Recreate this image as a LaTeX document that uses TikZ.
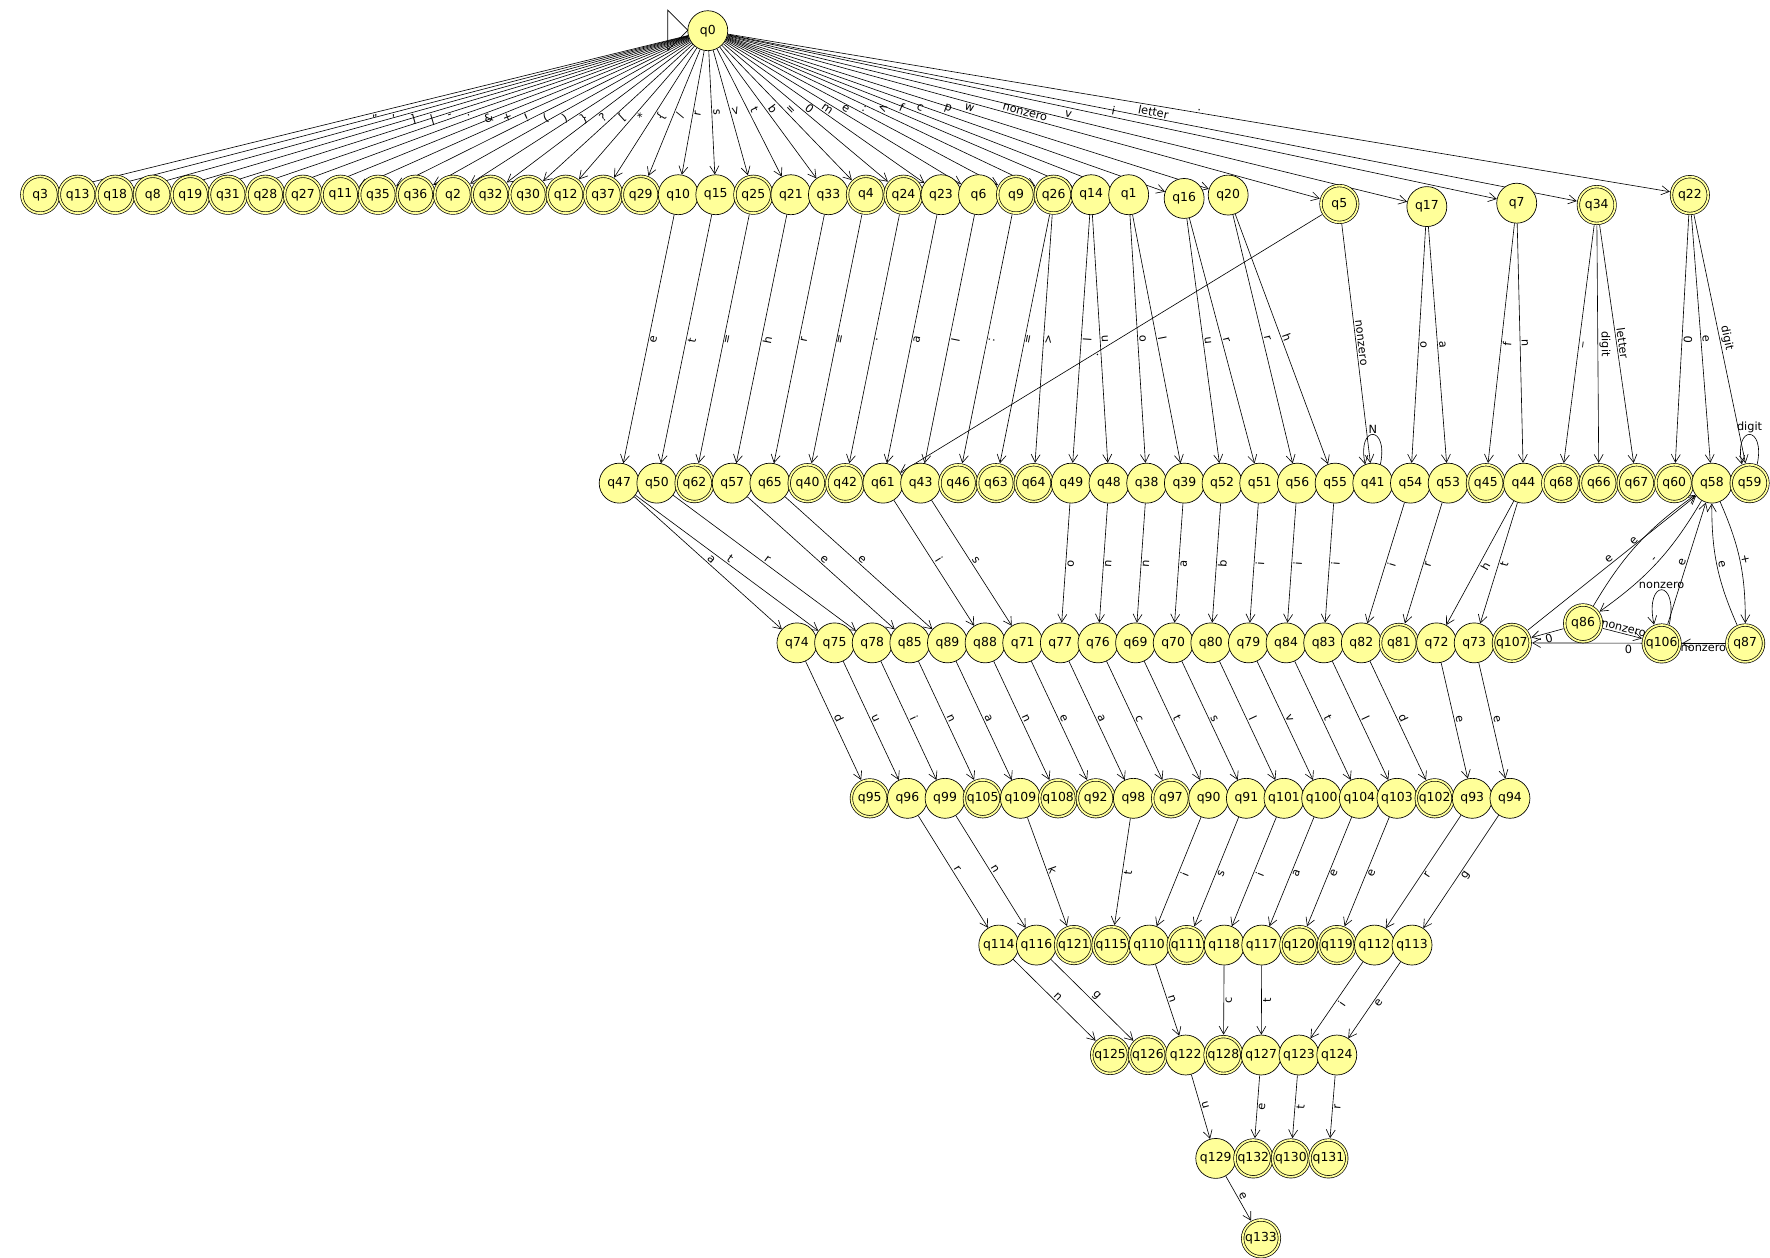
\documentclass[tikz,border=0pt]{standalone}
\usepackage{fontspec}
\setmainfont{DejaVu Sans}
\usetikzlibrary{arrows.meta,backgrounds}
\definecolor{jfy}{RGB}{255,255,153}
\tikzset{
  st/.style={circle,draw,fill=jfy,minimum size=35.4pt,inner sep=0pt,line width=0.6pt,font=\fontsize{11}{11}\selectfont},
  s0/.style={st},
  s1/.style={st,minimum size=32.6pt,double=jfy,double distance=1.6pt,outer sep=1.7pt},
  tr/.style={-{Straight Barb[length=7pt,width=8pt]},line width=0.55pt},
  lab/.style={font=\fontsize{10}{10}\selectfont,sloped,auto,inner sep=1.2pt},
  labs/.style={lab,swap},
  llab/.style={font=\fontsize{10}{10}\selectfont,above,inner sep=1pt},
}
\begin{document}
\begin{tikzpicture}[x=1pt,y=-1pt]
\useasboundingbox (0,0) rectangle (1568,1114);
% states
\node[s0] (q0) at (627,27.2) {q0};
\foreach \n/\a [count=\i from 0] in {3/1,13/1,18/1,8/1,19/1,31/1,28/1,27/1,11/1,35/1,36/1,2/1,32/1,30/1,12/1,37/1,29/1,10/0,15/0,25/1,21/0,33/0,4/1,24/1,23/0,6/0,9/1,26/1,14/0,1/0}
  \node[s\a] (q\n) at (35.6+33.25*\i,172.5) {q\n};
\node[s0] (q16) at (1049,175.8) {q16};
\node[s0] (q20) at (1088,172.8) {q20};
\node[s1] (q5) at (1186.5,180.7) {q5};
\node[s0] (q17) at (1264,183) {q17};
\node[s0] (q7) at (1343.6,180) {q7};
\node[s1] (q34) at (1414.5,181.6) {q34};
\node[s1] (q22) at (1497,172.8) {q22};
\foreach \n/\a [count=\i from 0] in {47/0,50/0,62/1,57/0,65/0,40/1,42/1,61/0,43/0,46/1,63/1,64/1,49/0,48/0,38/0,39/0,52/0,51/0,56/0,55/0,41/0,54/0,53/0,45/1,44/0,68/1,66/1,67/1,60/1,58/0,59/1}
  \node[s\a] (q\n) at (548.5+33.38*\i,428) {q\n};
\foreach \n/\a [count=\i from 0] in {74/0,75/0,78/0,85/0,89/0,88/0,71/0,77/0,76/0,69/0,70/0,80/0,79/0,84/0,83/0,82/0,81/1,72/0,73/0,107/1}
  \node[s\a] (q\n) at (706+33.33*\i,569.5) {q\n};
\node[s1] (q86) at (1402.4,552.2) {q86};
\node[s1] (q106) at (1472,570) {q106};
\node[s1] (q87) at (1546,570) {q87};
\foreach \n/\a [count=\i from 0] in {95/1,96/0,99/0,105/1,109/0,108/1,92/1,98/0,97/1,90/0,91/0,101/0,100/0,104/0,103/0,102/1,93/0,94/0}
  \node[s\a] (q\n) at (770.5+33.36*\i,707.2) {q\n};
\foreach \n/\a [count=\i from 0] in {114/0,116/0,121/1,115/1,110/0,111/1,118/0,117/0,120/1,119/1,112/0,113/0}
  \node[s\a] (q\n) at (884.8+33.28*\i,837.2) {q\n};
\foreach \n/\a [count=\i from 0] in {125/1,126/1,122/0,128/1,127/0,123/0,124/0}
  \node[s\a] (q\n) at (983.4+33.47*\i,934.6) {q\n};
\foreach \n/\a [count=\i from 0] in {129/0,132/1,130/1,131/1}
  \node[s\a] (q\n) at (1077+33.27*\i,1026.2) {q\n};
\node[s1] (q133) at (1117.1,1097) {q133};
% initial marker
\draw[line width=0.6pt] (591.5,9) -- (591.5,44.5) -- (609.3,26.8) -- cycle;
\begin{scope}[on background layer]
\fill[white] (0,0) rectangle (1568,1114);
% fan from q0
\draw[tr] (q0) -- node[labs]{"} (q3);
\draw[tr] (q0) -- node[labs]{,} (q13);
\draw[tr] (q0) -- node[labs]{]} (q18);
\draw[tr] (q0) -- node[labs]{|} (q8);
\draw[tr] (q0) -- node[labs]{-} (q19);
\draw[tr] (q0) -- node[labs]{.} (q31);
\draw[tr] (q0) -- node[labs]{\&} (q28);
\draw[tr] (q0) -- node[labs]{+} (q27);
\draw[tr] (q0) -- node[labs]{!} (q11);
\draw[tr] (q0) -- node[labs]{(} (q35);
\draw[tr] (q0) -- node[labs]{)} (q36);
\draw[tr] (q0) -- node[labs]{\}} (q2);
\draw[tr] (q0) -- node[labs]{?} (q32);
\draw[tr] (q0) -- node[labs]{[} (q30);
\draw[tr] (q0) -- node[labs]{*} (q12);
\draw[tr] (q0) -- node[labs]{\{} (q37);
\draw[tr] (q0) -- node[labs]{/} (q29);
\draw[tr] (q0) -- node[labs]{r} (q10);
\draw[tr] (q0) -- node[lab]{s} (q15);
\draw[tr] (q0) -- node[lab]{>} (q25);
\draw[tr] (q0) -- node[lab]{t} (q21);
\draw[tr] (q0) -- node[lab]{b} (q33);
\draw[tr] (q0) -- node[lab]{=} (q4);
\draw[tr] (q0) -- node[lab]{0} (q24);
\draw[tr] (q0) -- node[lab]{m} (q23);
\draw[tr] (q0) -- node[lab]{e} (q6);
\draw[tr] (q0) -- node[lab]{:} (q9);
\draw[tr] (q0) -- node[lab]{<} (q26);
\draw[tr] (q0) -- node[lab]{f} (q14);
\draw[tr] (q0) -- node[lab]{c} (q1);
\draw[tr] (q0) -- node[lab]{p} (q16);
\draw[tr] (q0) -- node[lab]{w} (q20);
\draw[tr] (q0) -- node[lab]{nonzero} (q5);
\draw[tr] (q0) -- node[lab]{v} (q17);
\draw[tr] (q0) -- node[lab]{i} (q7);
\draw[tr] (q0) -- node[lab]{letter} (q34);
\draw[tr] (q0) -- node[lab]{.} (q22);
% row 1 -> row 2
\draw[tr] (q10) -- node[labs]{e} (q47);
\draw[tr] (q15) -- node[labs]{t} (q50);
\draw[tr] (q25) -- node[labs]{=} (q62);
\draw[tr] (q21) -- node[labs]{h} (q57);
\draw[tr] (q33) -- node[labs]{r} (q65);
\draw[tr] (q4) -- node[labs]{=} (q40);
\draw[tr] (q24) -- node[labs]{.} (q42);
\draw[tr] (q23) -- node[labs]{a} (q61);
\draw[tr] (q6) -- node[labs]{l} (q43);
\draw[tr] (q9) -- node[labs]{:} (q46);
\draw[tr] (q26) -- node[labs]{=} (q63);
\draw[tr] (q26) -- node[labs]{>} (q64);
\draw[tr] (q14) -- node[labs]{l} (q49);
\draw[tr] (q14) -- node[lab]{u} (q48);
\draw[tr] (q1) -- node[lab]{o} (q38);
\draw[tr] (q1) -- node[lab]{l} (q39);
\draw[tr] (q16) -- node[lab]{u} (q52);
\draw[tr] (q16) -- node[lab]{r} (q51);
\draw[tr] (q20) -- node[lab]{r} (q56);
\draw[tr] (q20) -- node[lab]{h} (q55);
\draw[tr] (q5) -- node[labs,pos=0.535]{.} (q61);
\draw[tr] (q5) -- node[lab]{nonzero} (q41);
\draw[tr] (q17) -- node[labs]{o} (q54);
\draw[tr] (q17) -- node[lab]{a} (q53);
\draw[tr] (q7) -- node[labs]{f} (q45);
\draw[tr] (q7) -- node[lab]{n} (q44);
\draw[tr] (q34) -- node[labs]{\_} (q68);
\draw[tr] (q34) -- node[lab]{digit} (q66);
\draw[tr] (q34) -- node[lab]{letter} (q67);
\draw[tr] (q22) -- node[labs]{0} (q60);
\draw[tr] (q22) -- node[lab]{e} (q58);
\draw[tr] (q22) -- node[lab]{digit} (q59);
\draw[tr] (q41.68) .. controls +(78:36pt) and +(102:36pt) .. node[llab]{N} (q41.112);
\draw[tr] (q59.68) .. controls +(78:36pt) and +(102:36pt) .. node[llab]{digit} (q59.112);
% row 2 -> row 3
\draw[tr] (q47) -- node[lab]{a} (q74);
\draw[tr] (q47) -- node[lab]{t} (q75);
\draw[tr] (q50) -- node[lab]{r} (q78);
\draw[tr] (q57) -- node[lab]{e} (q85);
\draw[tr] (q65) -- node[lab]{e} (q89);
\draw[tr] (q61) -- node[lab]{i} (q88);
\draw[tr] (q43) -- node[lab]{s} (q71);
\draw[tr] (q49) -- node[labs]{o} (q77);
\draw[tr] (q48) -- node[labs]{n} (q76);
\draw[tr] (q38) -- node[labs]{n} (q69);
\draw[tr] (q39) -- node[labs]{a} (q70);
\draw[tr] (q52) -- node[labs]{b} (q80);
\draw[tr] (q51) -- node[labs]{i} (q79);
\draw[tr] (q56) -- node[labs]{i} (q84);
\draw[tr] (q55) -- node[labs]{i} (q83);
\draw[tr] (q54) -- node[labs]{i} (q82);
\draw[tr] (q53) -- node[labs]{r} (q81);
\draw[tr] (q44) -- node[labs]{h} (q72);
\draw[tr] (q44) -- node[labs]{t} (q73);
% number part
\draw[tr] (q107) -- node[lab]{e} (q58);
\draw[tr] (q58) to[bend left=12] node[lab]{-} (q86);
\draw[tr] (q86) to[bend left=12] node[lab]{e} (q58);
\draw[tr] (q106) -- node[lab]{e} (q58);
\draw[tr] (q58) to[bend left=12] node[lab]{+} (q87);
\draw[tr] (q87) to[bend left=12] node[lab]{e} (q58);
\draw[tr] (q86) -- node[labs]{0} (q107);
\draw[tr] (q86) -- node[lab]{nonzero} (q106);
\draw[tr] (q87) -- node[labs]{0} (q107);
\draw[tr] (q87) -- node[labs]{nonzero} (q106);
\draw[tr] (q106.68) .. controls +(78:42pt) and +(102:42pt) .. node[llab]{nonzero} (q106.112);
% row 3 -> row 4
\draw[tr] (q74) -- node[lab]{d} (q95);
\draw[tr] (q75) -- node[lab]{u} (q96);
\draw[tr] (q78) -- node[lab]{i} (q99);
\draw[tr] (q85) -- node[lab]{n} (q105);
\draw[tr] (q89) -- node[lab]{a} (q109);
\draw[tr] (q88) -- node[lab]{n} (q108);
\draw[tr] (q71) -- node[lab]{e} (q92);
\draw[tr] (q77) -- node[lab]{a} (q98);
\draw[tr] (q76) -- node[lab]{c} (q97);
\draw[tr] (q69) -- node[lab]{t} (q90);
\draw[tr] (q70) -- node[lab]{s} (q91);
\draw[tr] (q80) -- node[lab]{l} (q101);
\draw[tr] (q79) -- node[lab]{v} (q100);
\draw[tr] (q84) -- node[lab]{t} (q104);
\draw[tr] (q83) -- node[lab]{l} (q103);
\draw[tr] (q82) -- node[lab]{d} (q102);
\draw[tr] (q72) -- node[lab]{e} (q93);
\draw[tr] (q73) -- node[lab]{e} (q94);
% row 4 -> row 5
\draw[tr] (q96) -- node[lab]{r} (q114);
\draw[tr] (q99) -- node[lab]{n} (q116);
\draw[tr] (q109) -- node[lab]{k} (q121);
\draw[tr] (q98) -- node[labs]{t} (q115);
\draw[tr] (q90) -- node[labs]{i} (q110);
\draw[tr] (q91) -- node[labs]{s} (q111);
\draw[tr] (q101) -- node[labs]{i} (q118);
\draw[tr] (q100) -- node[labs]{a} (q117);
\draw[tr] (q104) -- node[labs]{e} (q120);
\draw[tr] (q103) -- node[labs]{e} (q119);
\draw[tr] (q93) -- node[labs]{r} (q112);
\draw[tr] (q94) -- node[labs]{g} (q113);
% row 5 -> row 6
\draw[tr] (q114) -- node[lab]{n} (q125);
\draw[tr] (q116) -- node[lab]{g} (q126);
\draw[tr] (q110) -- node[lab]{n} (q122);
\draw[tr] (q118) -- node[labs]{c} (q128);
\draw[tr] (q117) -- node[labs]{t} (q127);
\draw[tr] (q112) -- node[labs]{i} (q123);
\draw[tr] (q113) -- node[labs]{e} (q124);
% row 6 -> row 7 -> row 8
\draw[tr] (q122) -- node[lab]{u} (q129);
\draw[tr] (q127) -- node[labs]{e} (q132);
\draw[tr] (q123) -- node[labs]{t} (q130);
\draw[tr] (q124) -- node[labs]{r} (q131);
\draw[tr] (q129) -- node[lab]{e} (q133);
\end{scope}
\end{tikzpicture}
\end{document}
